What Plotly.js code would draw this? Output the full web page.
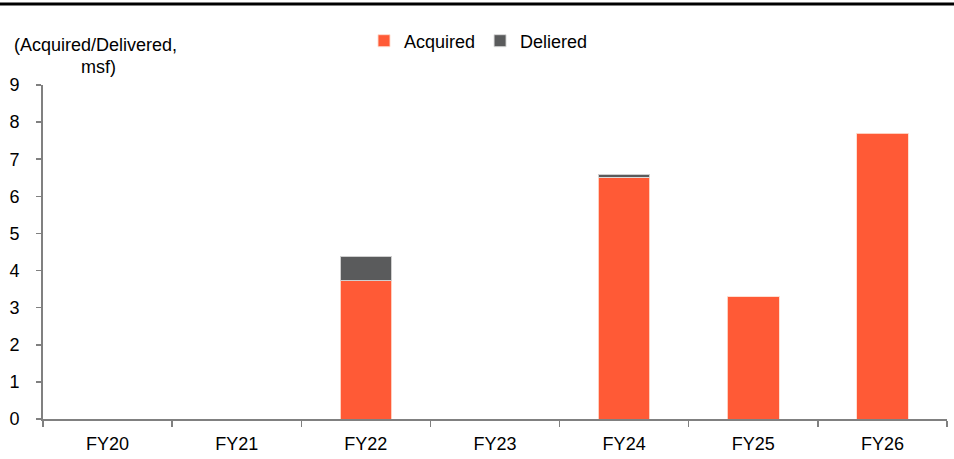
<!DOCTYPE html>
<html>
<head>
<meta charset="utf-8">
<script src="https://cdn.plot.ly/plotly-3.0.1.min.js"></script>
<style>html,body{margin:0;padding:0;background:#fff;}#chart{width:954px;height:459px;}</style>
</head>
<body>
<div id="chart"></div>
<script>
const categories = ["FY20", "FY21", "FY22", "FY23", "FY24", "FY25", "FY26"];
const acquired = [null, null, 3.72, null, 6.52, 3.29, 7.70];
const delivered = [null, null, 0.67, null, 0.08, null, null];
const seriesNames = ["Acquired", "Deliered"];
const yTicks = [0, 1, 2, 3, 4, 5, 6, 7, 8, 9];

const FONT = "Liberation Sans, Arial, sans-serif";
const FS = 18;
const W = 954, H = 459;
const M = {l: 43, r: 7, t: 85, b: 40};
const pw = W - M.l - M.r, ph = H - M.t - M.b;
const px = x => (x - M.l) / pw;
const py = y => (H - M.b - y) / ph;

const data = [
  {type: "bar", name: seriesNames[0], x: categories, y: acquired, width: 0.4,
   marker: {color: "#FF5A36", line: {color: "rgba(255,220,205,0.9)", width: 1}}},
  {type: "bar", name: seriesNames[1], x: categories, y: delivered, width: 0.4,
   marker: {color: "#5A5B5C", line: {color: "rgba(220,220,220,0.9)", width: 1}}}
];

const layout = {
  width: W, height: H,
  margin: M,
  barmode: "stack",
  paper_bgcolor: "#fff", plot_bgcolor: "#fff",
  font: {family: FONT, size: FS, color: "#000"},
  showlegend: true,
  legend: {orientation: "h", x: px(364), xanchor: "left", y: py(41), yanchor: "middle",
           font: {family: FONT, size: FS, color: "#000"}, itemwidth: 30, traceorder: "normal",
           bgcolor: "rgba(0,0,0,0)"},
  xaxis: {type: "category", range: [-0.5, 6.5], tickson: "boundaries",
          ticks: "outside", ticklen: 6, tickwidth: 1.5, tickcolor: "#808080",
          showline: true, linecolor: "#808080", linewidth: 2, showgrid: false, zeroline: false,
          ticklabelstandoff: 7,
          tickfont: {family: FONT, size: FS, color: "#000"}, fixedrange: true},
  yaxis: {range: [0, 9], tickvals: yTicks, ticktext: yTicks.map(String),
          ticks: "outside", ticklen: 5, tickwidth: 1.5, tickcolor: "#808080",
          showline: true, linecolor: "#808080", linewidth: 2, showgrid: false, zeroline: false,
          ticklabelstandoff: 13,
          tickfont: {family: FONT, size: FS, color: "#000"}, fixedrange: true},
  shapes: [
    {type: "line", xref: "paper", yref: "paper", x0: px(0), x1: px(954), y0: py(4), y1: py(4),
     line: {color: "#000", width: 3}}
  ],
  annotations: [
    {xref: "paper", yref: "paper", x: px(95), y: py(45), xanchor: "center", yanchor: "middle",
     text: "(Acquired/Delivered,", showarrow: false, font: {family: FONT, size: FS, color: "#000"}},
    {xref: "paper", yref: "paper", x: px(98), y: py(67), xanchor: "center", yanchor: "middle",
     text: "msf)", showarrow: false, font: {family: FONT, size: FS, color: "#000"}}
  ]
};

Plotly.newPlot("chart", data, layout, {displayModeBar: false, staticPlot: true});
</script>
</body>
</html>
